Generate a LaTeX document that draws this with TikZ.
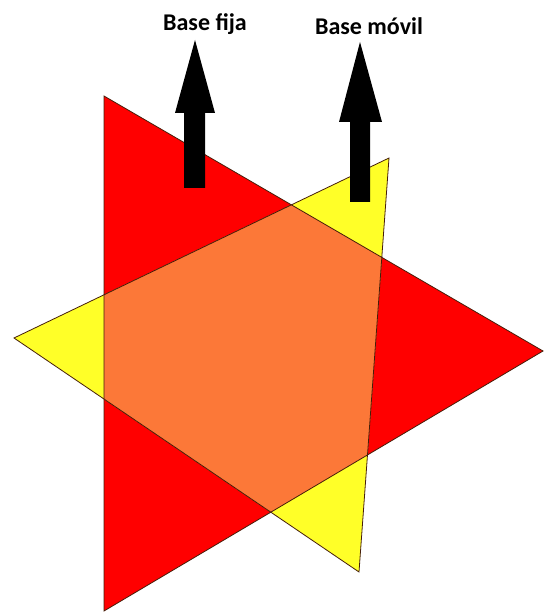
\documentclass[tikz,border=0pt]{standalone}
\usepackage{fontspec}
\setmainfont{Carlito}
\definecolor{redtri}{RGB}{255,0,0}
\definecolor{yellowtri}{RGB}{255,255,40}
\definecolor{orangeov}{RGB}{252,120,56}
\definecolor{edge}{RGB}{70,30,10}
\begin{document}
\begin{tikzpicture}[x=1pt,y=-1pt,
  tri/.style={draw=edge,line width=0.8pt,line join=miter},
  arrowshape/.style={fill=black},
  lbl/.style={font=\bfseries\fontsize{24}{26}\selectfont,inner sep=0pt}]
\useasboundingbox (0,0) rectangle (543,612);
% red triangle
\coordinate (R1) at (104,96);
\coordinate (R2) at (104,611);
\coordinate (R3) at (543,351);
% yellow triangle
\coordinate (Y1) at (14,338);
\coordinate (Y2) at (389,158);
\coordinate (Y3) at (359,572);
\fill[redtri] (R1) -- (R2) -- (R3) -- cycle;
\fill[yellowtri] (Y1) -- (Y2) -- (Y3) -- cycle;
\begin{scope}
  \clip (Y1) -- (Y2) -- (Y3) -- cycle;
  \fill[orangeov] (R1) -- (R2) -- (R3) -- cycle;
\end{scope}
\draw[tri] (R1) -- (R2) -- (R3) -- cycle;
\draw[tri] (Y1) -- (Y2) -- (Y3) -- cycle;
% arrows
\fill[arrowshape] (184,188) -- (184,113) -- (175,113) -- (195,40) -- (215,113) -- (205,113) -- (205,188) -- cycle;
\fill[arrowshape] (350,202) -- (350,122) -- (339,122) -- (360,42) -- (382,122) -- (370,122) -- (370,202) -- cycle;
% labels
\node[lbl] (fija) at (205,24) {Base fija};
\node[lbl] (movil) at (369,26) {Base móvil};
\end{tikzpicture}
\end{document}
